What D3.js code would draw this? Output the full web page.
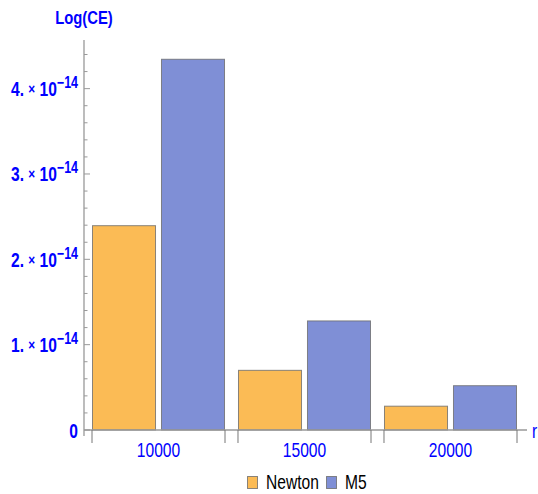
<!DOCTYPE html>
<html>
<head>
<meta charset="utf-8">
<script src="https://cdn.jsdelivr.net/npm/d3@7"></script>
<style>
  body { margin: 0; background: #fff; }
  text { font-family: "Liberation Sans", Arial, sans-serif; }
</style>
</head>
<body>
<div id="chart"></div>
<script>
// chart data
const categories = ["10000", "15000", "20000"];
const seriesNames = ["Newton", "M5"];
const newtonValues = [2.40e-14, 0.705e-14, 0.285e-14];
const m5Values = [4.35e-14, 1.284e-14, 0.525e-14];
const yTickValues = [0, 1e-14, 2e-14, 3e-14, 4e-14];
const yTickMantissa = ["0", "1.", "2.", "3.", "4."];

const svgWidth = 538;
const svgHeight = 494;
const colors = ["#fbbb55", "#7f8fd6"];
const blue = "#0000ff";
const axisGray = "#999999";
const narrow = 0.78; // mathematica labels are condensed

const svg = d3.select("#chart")
    .append("svg")
    .attr("width", svgWidth)
    .attr("height", svgHeight);

// condensed text placed at (x, y)
function label(parent, x, yPos, anchor) {
    return parent.append("g")
        .attr("transform", `translate(${x},${yPos}) scale(${narrow},1)`)
        .append("text")
        .attr("text-anchor", anchor);
}

// scales
const x0 = d3.scaleBand()
    .domain(categories)
    .range([92, 517])
    .paddingInner(0.089)
    .paddingOuter(0);

const x1 = d3.scaleBand()
    .domain(seriesNames)
    .range([0, x0.bandwidth()])
    .paddingInner(0.072);

const y = d3.scaleLinear()
    .domain([0, 4.57e-14])
    .range([430, 40]);

const axisX = 84;

// bars
const rows = categories.map((c, i) => ({cat: c, values: [newtonValues[i], m5Values[i]]}));

const groups = svg.append("g")
    .selectAll("g")
    .data(rows)
    .enter()
    .append("g")
    .attr("transform", d => `translate(${x0(d.cat)},0)`);

groups.selectAll("rect")
    .data(d => d.values.map((v, j) => ({name: seriesNames[j], value: v, color: colors[j]})))
    .enter()
    .append("rect")
    .attr("x", d => x1(d.name) + 0.5)
    .attr("y", d => y(d.value) + 0.5)
    .attr("width", x1.bandwidth() - 1)
    .attr("height", d => y(0) - y(d.value) - 0.5)
    .attr("fill", d => d.color)
    .attr("stroke", "#6b6b6b")
    .attr("stroke-opacity", 0.8)
    .attr("stroke-width", 1);

// y axis line and ticks
svg.append("line")
    .attr("x1", axisX).attr("x2", axisX)
    .attr("y1", 40).attr("y2", 436)
    .attr("stroke", axisGray).attr("stroke-width", 1.3);

const minorTicks = d3.range(0, 45).map(i => i * 0.1e-14).filter((v, i) => i % 2 === 0 && i % 10 !== 0);
svg.append("g").selectAll("line")
    .data(minorTicks)
    .enter()
    .append("line")
    .attr("x1", axisX).attr("x2", axisX + 3.5)
    .attr("y1", d => y(d)).attr("y2", d => y(d))
    .attr("stroke", axisGray);

svg.append("g").selectAll("line")
    .data(yTickValues)
    .enter()
    .append("line")
    .attr("x1", axisX).attr("x2", axisX + 6)
    .attr("y1", d => y(d)).attr("y2", d => y(d))
    .attr("stroke", axisGray);

// y tick labels  "4. × 10^-14"
const yLabelGroup = svg.append("g");
yTickValues.forEach((d, i) => {
    const t = label(yLabelGroup, 78, y(d) + 7.5, "end")
        .attr("fill", blue)
        .attr("font-weight", "bold")
        .attr("font-size", 20);
    if (d === 0) {
        t.text(yTickMantissa[i]);
        return;
    }
    t.append("tspan").text(yTickMantissa[i] + " ");
    t.append("tspan").attr("font-size", 15).attr("dy", -2).text("×");
    t.append("tspan").attr("dy", 2).text(" 10");
    t.append("tspan").attr("font-size", 16).attr("dy", -8).text("\u221214");
});

// x axis line
svg.append("line")
    .attr("x1", axisX).attr("x2", 527)
    .attr("y1", y(0)).attr("y2", y(0))
    .attr("stroke", axisGray).attr("stroke-width", 1.3);

// x ticks at group edges
const edges = [];
categories.forEach(c => { edges.push(x0(c)); edges.push(x0(c) + x0.bandwidth()); });
svg.append("g").selectAll("line")
    .data(edges)
    .enter()
    .append("line")
    .attr("x1", d => d).attr("x2", d => d)
    .attr("y1", y(0)).attr("y2", y(0) + 13)
    .attr("stroke", "#777777");

// x tick labels
const xLabelGroup = svg.append("g");
categories.forEach(c => {
    label(xLabelGroup, x0(c) + x0.bandwidth() / 2, 456.5, "middle")
        .attr("fill", blue)
        .attr("font-size", 20)
        .text(c);
});

// axis titles
label(svg, 84, 24, "middle")
    .attr("fill", blue)
    .attr("font-weight", "bold")
    .attr("font-size", 19)
    .text("Log(CE)");

label(svg, 532, 437.5, "start")
    .attr("fill", blue)
    .attr("font-size", 20)
    .text("r");

// legend
const legendX = [247, 326];
const legend = svg.append("g").selectAll("g")
    .data(seriesNames)
    .enter()
    .append("g")
    .attr("transform", (d, i) => `translate(${legendX[i]},476)`);

legend.append("rect")
    .attr("x", 0.5).attr("y", 0.5)
    .attr("width", 10).attr("height", 12)
    .attr("fill", (d, i) => colors[i])
    .attr("stroke", "#6b6b6b")
    .attr("stroke-opacity", 0.8);

legend.each(function(d) {
    label(d3.select(this), 19, 12.5, "start")
        .attr("fill", "#000")
        .attr("font-size", 20)
        .text(d);
});
</script>
</body>
</html>
